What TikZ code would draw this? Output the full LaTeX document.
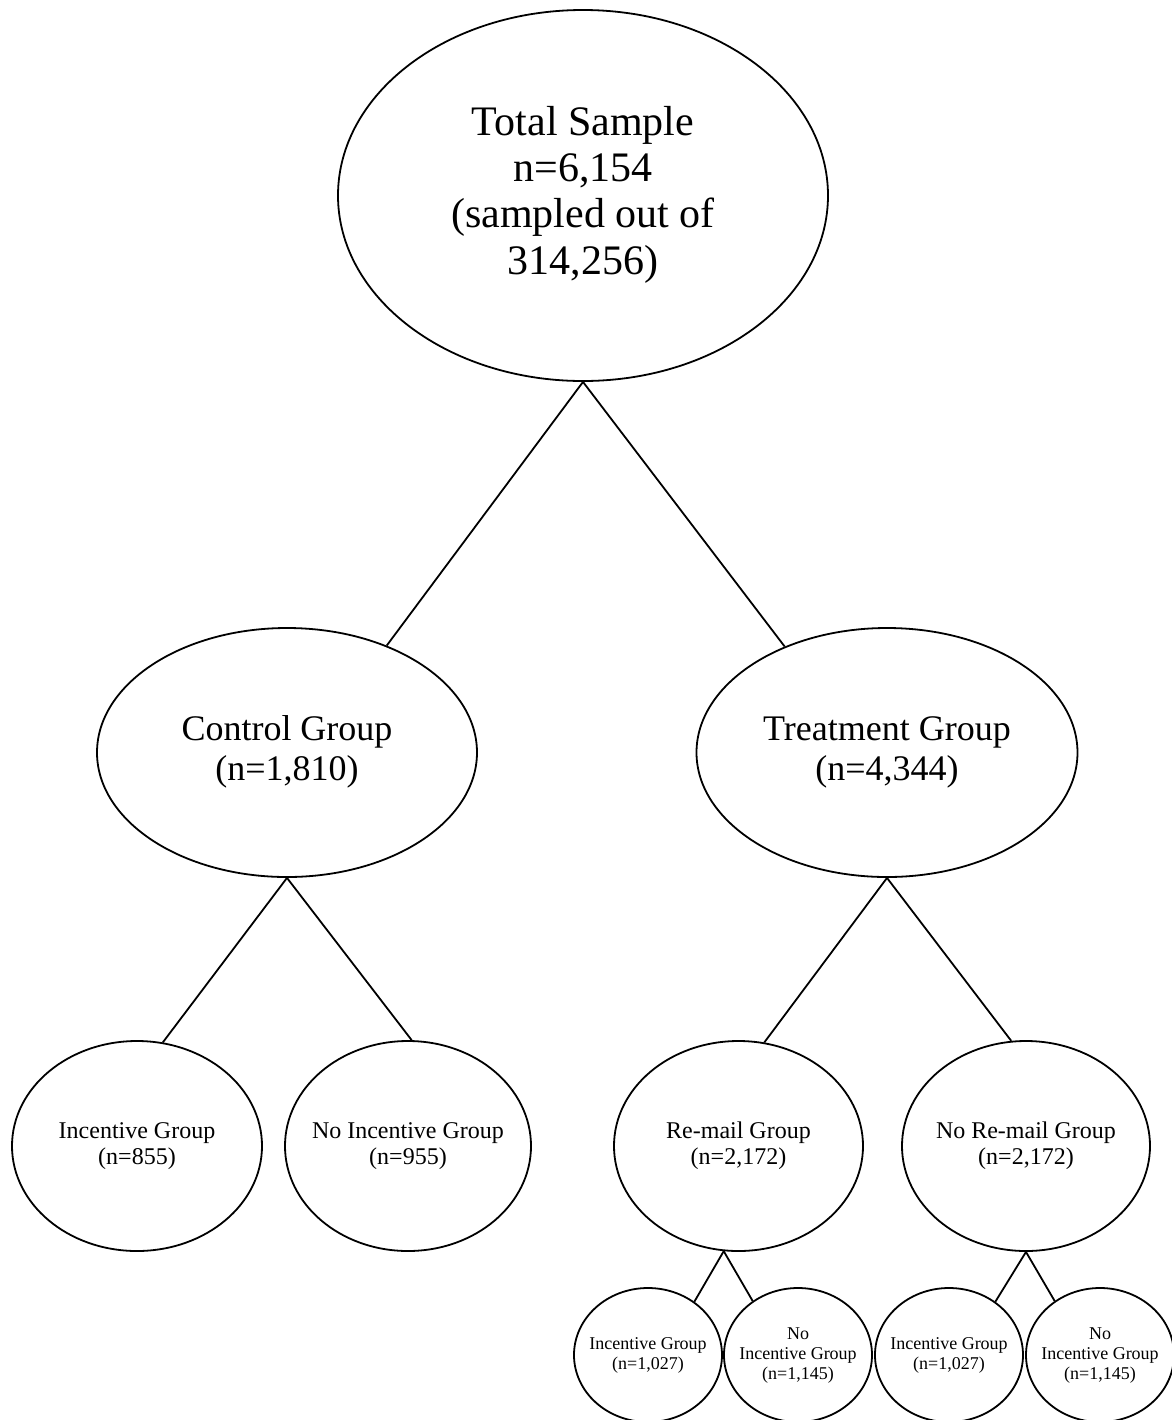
\documentclass[tikz,border=0pt]{standalone}
\usepackage{fontspec}
\setmainfont{Liberation Serif}
\usetikzlibrary{shapes.geometric}
\newcommand\ctxt[1]{\makebox[0pt]{\begin{tabular}{@{}c@{}}#1\end{tabular}}}
\begin{document}
\begin{tikzpicture}[x=0.5pt,y=-0.5pt,
  ell/.style={ellipse, draw, line width=0.9pt, inner sep=0pt},
  conn/.style={line width=0.9pt},
  fbig/.style={font=\fontsize{21}{23.2}\selectfont},
  fmid/.style={font=\fontsize{18}{20}\selectfont},
  fmed/.style={font=\fontsize{12}{13}\selectfont},
  fsml/.style={font=\fontsize{9}{10}\selectfont},
  lvl3/.style={ell, fmed, minimum width=124pt, minimum height=105pt},
  lvl4/.style={ell, fsml, minimum width=74pt, minimum height=67pt}]
\useasboundingbox (0,0) rectangle (1172,1420);
\fill[white] (0,0) rectangle (1172,1420);
\clip (0,0) rectangle (1172,1420);

\node[ell, fbig, minimum width=245pt, minimum height=185.5pt] (top) at (583,195.5)
  {\ctxt{Total Sample\\n=6,154\\(sampled out of\\314,256)}};

\node[ell, fmid, minimum width=190pt, minimum height=124.5pt] (ctrl) at (287,752.5)
  {\ctxt{Control Group\\(n=1,810)}};
\node[ell, fmid, minimum width=190.5pt, minimum height=124.5pt] (treat) at (887,752.5)
  {\ctxt{Treatment Group\\(n=4,344)}};

\node[lvl3, minimum width=125pt] (inc) at (137,1146) {\ctxt{Incentive Group\\(n=855)}};
\node[lvl3, minimum width=123pt] (noinc) at (408,1146) {\ctxt{No Incentive Group\\(n=955)}};
\node[lvl3, minimum width=124.5pt] (remail) at (738.5,1146) {\ctxt{Re-mail Group\\(n=2,172)}};
\node[lvl3] (noremail) at (1026,1146) {\ctxt{No Re-mail Group\\(n=2,172)}};

\node[lvl4] (s1) at (648,1355) {\ctxt{Incentive Group\\(n=1,027)}};
\node[lvl4] (s2) at (798,1355) {\ctxt{No\\Incentive Group\\(n=1,145)}};
\node[lvl4] (s3) at (949,1355) {\ctxt{Incentive Group\\(n=1,027)}};
\node[lvl4] (s4) at (1100,1355) {\ctxt{No\\Incentive Group\\(n=1,145)}};

\draw[conn] (top.south) -- (ctrl.47.5);
\draw[conn] (top.south) -- (treat.134);
\draw[conn] (ctrl.south) -- (inc.76);
\draw[conn] (ctrl.south) -- (noinc.88);
\draw[conn] (treat.south) -- (remail.76);
\draw[conn] (treat.south) -- (noremail.98);
\draw[conn] (remail.262.4) -- (s1.49);
\draw[conn] (remail.262.4) -- (s2.130);
\draw[conn] (noremail.south) -- (s3.49);
\draw[conn] (noremail.south) -- (s4.130);
\end{tikzpicture}
\end{document}
